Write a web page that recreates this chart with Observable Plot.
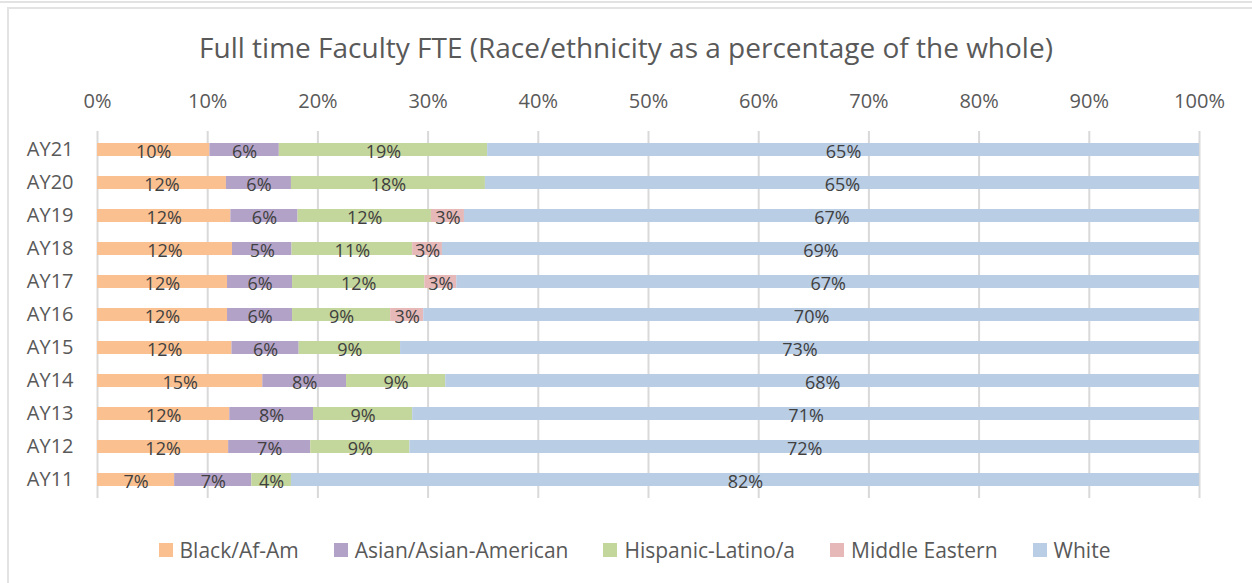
<!DOCTYPE html>
<html>
<head>
<meta charset="utf-8">
<script src="https://cdn.jsdelivr.net/npm/d3@7"></script>
<script src="https://cdn.jsdelivr.net/npm/@observablehq/plot@0.6"></script>
<style>
  html, body { margin: 0; padding: 0; background: #fff; }
  body { width: 1252px; height: 583px; position: relative; overflow: hidden; font-family: "Open Sans", "Noto Sans", sans-serif; }
  #topline { position: absolute; left: 0; top: 1px; width: 1252px; height: 0; border-top: 2px solid #e3e3e3; }
  #box { position: absolute; left: 7px; top: 7px; width: 1260px; height: 600px; border: 2px solid #e3e3e3; box-sizing: border-box; }
  #title { position: absolute; left: 0; top: 25px; width: 1252px; height: 45px; line-height: 45px; text-align: center; font-size: 28px; color: #595959; white-space: nowrap; }
  #chart { position: absolute; left: 0; top: 70px; }
  #legend { position: absolute; left: 0; top: 537px; width: 1252px; height: 26px; line-height: 26px; display: flex; justify-content: center; gap: 35px; font-size: 21px; color: #595959; padding-left: 17px; box-sizing: border-box; }
  .item { display: flex; align-items: center; gap: 7px; white-space: nowrap; }
  .sw { width: 14px; height: 14px; display: inline-block; }
</style>
</head>
<body>
<div id="topline"></div>
<div id="box"></div>
<div id="title"></div>
<div id="chart"></div>
<div id="legend"></div>
<script>
const titleText = "Full time Faculty FTE (Race/ethnicity as a percentage of the whole)";
const years = ["AY21","AY20","AY19","AY18","AY17","AY16","AY15","AY14","AY13","AY12","AY11"];
const groups = ["Black/Af-Am","Asian/Asian-American","Hispanic-Latino/a","Middle Eastern","White"];
const colors = ["#FAC090","#B3A2C7","#C3D69B","#E6B9B8","#B9CDE5"];
// percentages per year, in order of `years`
const black    = [10.2, 11.7, 12.1, 12.25, 11.8, 11.8, 12.2, 15.0, 12.0, 11.9, 7.0];
const asian    = [6.3,  5.9,  6.1,  5.4,   5.9,  5.9,  6.1,  7.6,  7.6,  7.45, 7.0];
const hispanic = [18.9, 17.6, 12.1, 10.95, 12.0, 8.9,  9.2,  9.0,  9.0,  9.0,  3.6];
const midEast  = [0,    0,    3.0,  2.7,   2.9,  3.0,  0,    0,    0,    0,    0];
const white    = [64.6, 64.8, 66.7, 68.7,  67.4, 70.4, 72.5, 68.4, 71.4, 71.65,82.4];
const xTicks = [0,10,20,30,40,50,60,70,80,90,100];

const series = [black, asian, hispanic, midEast, white];
const rows = [];
years.forEach((y, i) => {
  groups.forEach((g, j) => {
    const v = series[j][i];
    if (v > 0) rows.push({year: y, group: g, value: v, label: Math.round(v) + "%"});
  });
});

document.getElementById("title").textContent = titleText;

const stackOpts = {y: "year", x: "value", z: "group", order: groups};
const chart = Plot.plot({
  width: 1252,
  height: 450,
  marginLeft: 97,
  marginRight: 53,
  marginTop: 61,
  marginBottom: 22,
  style: {fontFamily: "'Open Sans', 'Noto Sans', sans-serif", fontSize: "20px", color: "#595959", background: "transparent"},
  x: {domain: [0, 100], axis: "top", ticks: xTicks, tickFormat: d => d + "%", tickSize: 0, tickPadding: 24, label: null, grid: false},
  y: {domain: years, paddingInner: 0.6, paddingOuter: 0.3, tickSize: 0, tickPadding: 24, label: null},
  color: {domain: groups, range: colors},
  marks: [
    Plot.ruleX(xTicks, {stroke: "#d9d9d9", strokeWidth: 2}),
    Plot.barX(rows, Plot.stackX({...stackOpts, fill: "group"})),
    Plot.text(rows, Plot.stackX({...stackOpts, x: "value", text: "label", fill: "#404040", fontSize: 18, dy: 2}))
  ]
});
document.getElementById("chart").appendChild(chart);

const legend = document.getElementById("legend");
groups.forEach((g, j) => {
  const it = document.createElement("div");
  it.className = "item";
  const sw = document.createElement("span");
  sw.className = "sw";
  sw.style.background = colors[j];
  const tx = document.createElement("span");
  tx.textContent = g;
  it.appendChild(sw); it.appendChild(tx);
  legend.appendChild(it);
});
</script>
</body>
</html>
